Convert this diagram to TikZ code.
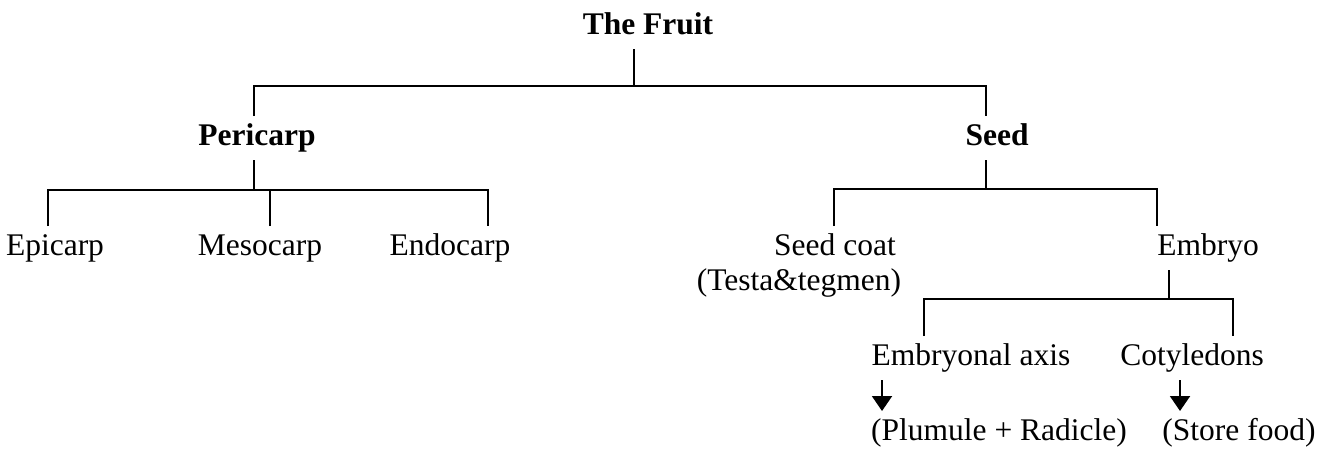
\documentclass[tikz,border=0pt]{standalone}
\usepackage{fontspec}
\setmainfont{Liberation Serif}
\usetikzlibrary{arrows.meta}

\begin{document}
\begin{tikzpicture}[x=0.5pt, y=-0.5pt, line width=1pt,
  lbl/.style={inner sep=3.5pt, text height=10.5pt, text depth=3.5pt, anchor=base,
    font=\fontsize{15.75}{19}\selectfont},
  hd/.style={lbl, font=\fontsize{15.75}{19}\selectfont\bfseries},
  arr/.style={-{Triangle[width=10pt, length=7.5pt]}}]
\useasboundingbox (0,0) rectangle (1336,450);
% labels, placed on their baselines
\node[hd] (fruit) at (648,34) {The Fruit};
\node[hd] (peri) at (257,145) {Pericarp};
\node[hd] (seed) at (997,145) {Seed};
\node[lbl] (epi) at (55,255) {Epicarp};
\node[lbl] (meso) at (260,255) {Mesocarp};
\node[lbl] (endo) at (450,255) {Endocarp};
\node[lbl] (coat) at (835,255) {Seed coat};
\node[lbl] (testa) at (799,290) {(Testa\&tegmen)};
\node[lbl] (emb) at (1208,255) {Embryo};
\node[lbl] (axis) at (971,365) {Embryonal axis};
\node[lbl] (coty) at (1192,365) {Cotyledons};
\node[lbl] (plum) at (999,440) {(Plumule + Radicle)};
\node[lbl] (food) at (1239,440) {(Store food)};
% junctions of the tree
\coordinate (fj) at (634,86);
\coordinate (fl) at (254,86);
\coordinate (fr) at (986,86);
\coordinate (pj) at (254,190);
\coordinate (pa) at (48,190);
\coordinate (pb) at (270,190);
\coordinate (pc) at (488,190);
\coordinate (sj) at (986,189);
\coordinate (sa) at (834,189);
\coordinate (sb) at (1157,189);
\coordinate (ej) at (1169,299);
\coordinate (ea) at (924,299);
\coordinate (eb) at (1233,299);
\coordinate (xa) at (882,0);
\coordinate (xb) at (1180,0);
% fruit
\draw (fruit.south -| fj) -- (fj);
\draw (peri.north -| fl) -- (fl) -- (fr) -- (seed.north -| fr);
% pericarp
\draw (peri.south -| pj) -- (pj);
\draw (epi.north -| pa) -- (pa) -- (pc) -- (endo.north -| pc);
\draw (meso.north -| pb) -- (pb);
% seed
\draw (seed.south -| sj) -- (sj);
\draw (coat.north -| sa) -- (sa) -- (sb) -- (emb.north -| sb);
% embryo
\draw (emb.south -| ej) -- (ej);
\draw (axis.north -| ea) -- (ea) -- (eb) -- (coty.north -| eb);
\draw[arr] (axis.south -| xa) -- (plum.north -| xa);
\draw[arr] (coty.south -| xb) -- (food.north -| xb);
\end{tikzpicture}
\end{document}
